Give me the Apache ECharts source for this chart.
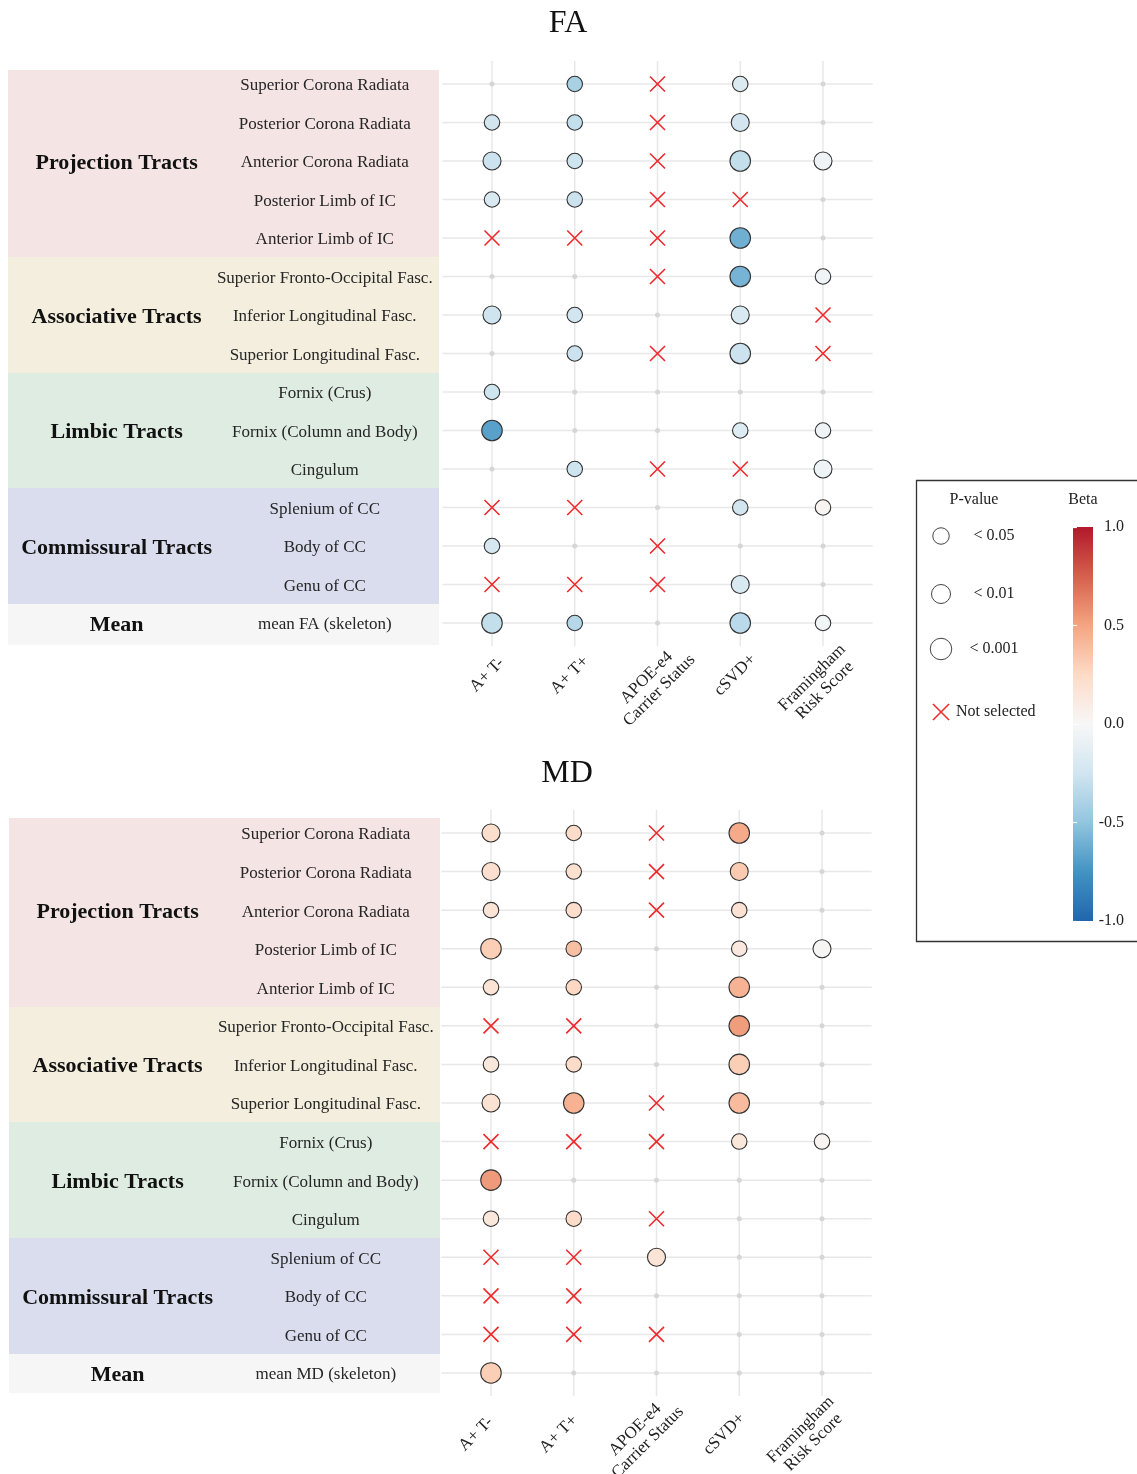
<!DOCTYPE html>
<html>
<head>
<meta charset="utf-8">
<title>FA / MD associations</title>
<script src="https://cdn.jsdelivr.net/npm/echarts@6/dist/echarts.min.js"></script>
<style>
  html, body { margin: 0; padding: 0; background: #ffffff; }
  #chart { width: 1137px; height: 1474px; }
</style>
</head>
<body>
<div id="chart"></div>
<script>
// ---------------- data ----------------
const PREDICTORS = ['A+ T-', 'A+ T+', 'APOE-e4\nCarrier Status', 'cSVD+', 'Framingham\nRisk Score'];

const TRACTS = [
  'Superior Corona Radiata', 'Posterior Corona Radiata', 'Anterior Corona Radiata',
  'Posterior Limb of IC', 'Anterior Limb of IC',
  'Superior Fronto-Occipital Fasc.', 'Inferior Longitudinal Fasc.', 'Superior Longitudinal Fasc.',
  'Fornix (Crus)', 'Fornix (Column and Body)', 'Cingulum',
  'Splenium of CC', 'Body of CC', 'Genu of CC'
];
const FA_TRACTS = TRACTS.concat(['mean FA (skeleton)']);
const MD_TRACTS = TRACTS.concat(['mean MD (skeleton)']);

const GROUP_NAMES = ['Projection Tracts', 'Associative Tracts', 'Limbic Tracts', 'Commissural Tracts', 'Mean'];
const GROUP_SIZES = [5, 3, 3, 3, 1];

// one string per tract, one character per predictor:
// 'x' = not selected, '.' = not significant, '1' p<0.05, '2' p<0.01, '3' p<0.001
const FA_SIG = [
  '.1x1.', '11x2.', '21x32', '11xx.', 'xxx3.',
  '..x31', '21.2x', '.1x3x',
  '1....', '3..11', '.1xx2',
  'xx.11', '1.x..', 'xxx2.',
  '31.31'
];
const FA_BETA = [
  [null, -0.41, null, -0.18, null],
  [-0.24, -0.30, null, -0.24, null],
  [-0.27, -0.26, null, -0.30, -0.05],
  [-0.20, -0.27, null, null, null],
  [null, null, null, -0.61, null],
  [null, null, null, -0.59, -0.04],
  [-0.26, -0.24, null, -0.20, null],
  [null, -0.27, null, -0.27, null],
  [-0.26, null, null, null, null],
  [-0.68, null, null, -0.17, -0.05],
  [null, -0.26, null, null, -0.06],
  [null, null, null, -0.24, 0.03],
  [-0.22, null, null, null, null],
  [null, null, null, -0.20, null],
  [-0.30, -0.36, null, -0.34, -0.03]
];

const MD_SIG = [
  '21x3.', '21x2.', '11x1.', '31.12', '11.3.',
  'xx.3.', '11.3.', '23x3.',
  'xxx11', '3....', '11x..',
  'xx2..', 'xx...', 'xxx..',
  '3....'
];
const MD_BETA = [
  [0.22, 0.24, null, 0.47, null],
  [0.21, 0.20, null, 0.33, null],
  [0.17, 0.23, null, 0.19, null],
  [0.31, 0.38, null, 0.13, 0.02],
  [0.17, 0.26, null, 0.44, null],
  [null, null, null, 0.53, null],
  [0.14, 0.24, null, 0.31, null],
  [0.19, 0.44, null, 0.40, null],
  [null, null, null, 0.15, 0.03],
  [0.54, null, null, null, null],
  [0.14, 0.24, null, null, null],
  [null, null, 0.17, null, null],
  [null, null, null, null, null],
  [null, null, null, null, null],
  [0.31, null, null, null, null]
];

const SIG_LABELS = ['< 0.05', '< 0.01', '< 0.001'];
const BETA_TICKS = [-1, -0.5, 0, 0.5, 1];

// ---------------- styles & layout ----------------
const SERIF = '"Liberation Serif", "DejaVu Serif", serif';
const RDBU = ['#2166ac', '#4393c3', '#92c5de', '#d1e5f0', '#f7f7f7', '#fddbc7', '#f4a582', '#d6604d', '#b2182b'];
const GROUP_COLORS = ['#f5e4e4', '#f3eedd', '#deece2', '#d9ddee', '#f6f6f6'];
const SYMBOL_SIZE = [0, 15.5, 18, 20.5];
const CROSS_PATH = 'path://M0,0L10,10M10,0L0,10';
const CROSS_COLOR = '#ee2a2d';
const PAD = 0.6;               // axis expansion around first/last category
const GROUP_LABEL_X = 0.252;   // fractions of the label-panel width
const TRACT_LABEL_X = 0.735;
const TEXT_DROP = 2;           // optical baseline correction for row labels

const PANELS = [
  { title: 'FA', tracts: FA_TRACTS, sig: FA_SIG, beta: FA_BETA,
    titleX: 563, titleTop: 3,
    row0: 84, rowStep: 38.5, col0: 492, colStep: 82.75,
    band: [8, 70, 439, 645],
    xLab: [[-5, 52], [-4.5, 61]] },
  { title: 'MD', tracts: MD_TRACTS, sig: MD_SIG, beta: MD_BETA,
    titleX: 562, titleTop: 753,
    row0: 833, rowStep: 38.57, col0: 491, colStep: 82.75,
    band: [9, 818, 440, 1393],
    xLab: [[-15, 61], [-15, 63]] }
];

function splitCells(sig, beta) {
  const circles = [], crosses = [], blanks = [];
  sig.forEach((row, r) => {
    for (let c = 0; c < row.length; c++) {
      const s = row[c];
      if (s === 'x') crosses.push([c, r]);
      else if (s === '.') blanks.push([c, r]);
      else circles.push([c, r, beta[r][c], Number(s)]);
    }
  });
  return { circles, crosses, blanks };
}

const groupRanges = [];
(function () {
  let start = 0;
  GROUP_SIZES.forEach((s, g) => { groupRanges.push([start, start + s - 1, g]); start += s; });
})();

// ---------------- option ----------------
const grid = [], xAxis = [], yAxis = [], series = [], title = [];
const circleSeries = [];

PANELS.forEach(p => {
  const n = p.tracts.length, m = PREDICTORS.length;

  title.push({
    text: p.title, left: p.titleX, top: p.titleTop, textAlign: 'center',
    textStyle: { fontFamily: SERIF, fontSize: 32, fontWeight: 'normal', color: '#111' }
  });

  // dot matrix
  const dg = grid.length;
  grid.push({
    left: p.col0 - PAD * p.colStep, top: p.row0 - PAD * p.rowStep,
    width: (m - 1 + 2 * PAD) * p.colStep, height: (n - 1 + 2 * PAD) * p.rowStep,
    containLabel: false, outerBoundsMode: 'none'
  });
  const dx = xAxis.length, dy = yAxis.length;
  xAxis.push({ gridIndex: dg, type: 'value', min: -PAD, max: m - 1 + PAD, show: false });
  yAxis.push({ gridIndex: dg, type: 'value', min: -PAD, max: n - 1 + PAD, inverse: true, show: false });

  // label panel with coloured bands
  const [bl, bt, br, bb] = p.band;
  const lg = grid.length;
  grid.push({ left: bl, top: bt, width: br - bl, height: bb - bt, containLabel: false, outerBoundsMode: 'none' });
  const lx = xAxis.length, ly = yAxis.length;
  xAxis.push({ gridIndex: lg, type: 'value', min: 0, max: 1, show: false });
  yAxis.push({ gridIndex: lg, type: 'value', min: -(p.row0 - bt) / p.rowStep, max: (bb - p.row0) / p.rowStep, inverse: true, show: false });

  series.push({
    type: 'custom', xAxisIndex: lx, yAxisIndex: ly, z: 0, silent: true,
    data: groupRanges,
    renderItem(params, api) {
      const cs = params.coordSys;
      const first = api.value(0), last = api.value(1), g = api.value(2);
      const top = Math.round(first === 0 ? cs.y : api.coord([0, first - 0.5])[1]);
      const bottom = Math.round(last === n - 1 ? cs.y + cs.height : api.coord([0, last + 0.5])[1]);
      const midY = (api.coord([0, first])[1] + api.coord([0, last])[1]) / 2;
      const tx = api.coord([GROUP_LABEL_X, 0])[0];
      return {
        type: 'group',
        children: [
          { type: 'rect', shape: { x: cs.x, y: top, width: cs.width, height: bottom - top },
            style: { fill: GROUP_COLORS[g] } },
          { type: 'text', x: tx, y: midY + TEXT_DROP,
            style: { text: GROUP_NAMES[g], fill: '#111', fontSize: 22, fontWeight: 'bold',
                     fontFamily: SERIF, align: 'center', verticalAlign: 'middle' } }
        ]
      };
    }
  });

  series.push({
    type: 'custom', xAxisIndex: lx, yAxisIndex: ly, z: 1, silent: true,
    data: p.tracts.map((_, r) => [TRACT_LABEL_X, r]),
    renderItem(params, api) {
      const pt = api.coord([api.value(0), api.value(1)]);
      return {
        type: 'text', x: pt[0], y: pt[1] + TEXT_DROP,
        style: { text: p.tracts[params.dataIndex], fill: '#262626', fontSize: 17,
                 fontFamily: SERIF, align: 'center', verticalAlign: 'middle' }
      };
    }
  });

  // grid lines through every predictor and tract
  series.push({
    type: 'custom', xAxisIndex: dx, yAxisIndex: dy, z: 1, silent: true,
    data: PREDICTORS.map((_, c) => [0, c]).concat(p.tracts.map((_, r) => [1, r])),
    renderItem(params, api) {
      const cs = params.coordSys;
      const kind = api.value(0), k = api.value(1);
      let shape;
      if (kind === 0) {
        const x = api.coord([k, 0])[0];
        shape = { x1: x, y1: cs.y, x2: x, y2: cs.y + cs.height };
      } else {
        const y = api.coord([0, k])[1];
        shape = { x1: cs.x, y1: y, x2: cs.x + cs.width, y2: y };
      }
      return { type: 'line', shape, style: { stroke: '#e8e8e8', lineWidth: 1.5 } };
    }
  });

  // rotated predictor labels under the matrix
  series.push({
    type: 'custom', xAxisIndex: dx, yAxisIndex: dy, z: 2, silent: true,
    data: PREDICTORS.map((_, c) => [c, n - 1]),
    renderItem(params, api) {
      const pt = api.coord([api.value(0), api.value(1)]);
      const label = PREDICTORS[params.dataIndex];
      const off = p.xLab[label.indexOf('\n') >= 0 ? 1 : 0];
      return {
        type: 'text', x: pt[0] + off[0], y: pt[1] + off[1], rotation: Math.PI / 4,
        style: { text: label, fill: '#222', fontSize: 17, fontFamily: SERIF, lineHeight: 18,
                 align: 'center', verticalAlign: 'middle' }
      };
    }
  });

  const cells = splitCells(p.sig, p.beta);

  series.push({
    type: 'scatter', xAxisIndex: dx, yAxisIndex: dy, z: 2, silent: true,
    symbol: 'circle', symbolSize: 5,
    itemStyle: { color: '#d6d6d6', opacity: 1 },
    data: cells.blanks
  });

  circleSeries.push(series.length);
  series.push({
    type: 'scatter', name: p.title, xAxisIndex: dx, yAxisIndex: dy, z: 3, silent: true,
    symbol: 'circle', symbolSize: v => SYMBOL_SIZE[v[3]],
    itemStyle: { borderColor: '#333', borderWidth: 1.1, opacity: 1 },
    data: cells.circles
  });

  series.push({
    type: 'scatter', xAxisIndex: dx, yAxisIndex: dy, z: 4, silent: true,
    symbol: CROSS_PATH, symbolSize: 15,
    itemStyle: { color: 'none', borderColor: CROSS_COLOR, borderWidth: 1.6, opacity: 1 },
    data: cells.crosses
  });
});

// colour bar for beta
const cbg = grid.length;
grid.push({ left: 1073, top: 527, width: 20, height: 394, containLabel: false, outerBoundsMode: 'none' });
const cbx = xAxis.length;
xAxis.push({ gridIndex: cbg, type: 'value', min: 0, max: 1, show: false });
const cby = yAxis.length;
const tickStep = BETA_TICKS[1] - BETA_TICKS[0];
yAxis.push({
  gridIndex: cbg, type: 'value', position: 'right', z: 10,
  min: BETA_TICKS[0], max: BETA_TICKS[BETA_TICKS.length - 1], interval: tickStep,
  axisLine: { show: false }, splitLine: { show: false },
  axisTick: { show: true, inside: true, length: 4, lineStyle: { color: '#ffffff', width: 1.2 } },
  axisLabel: { margin: 31, align: 'right', fontSize: 16, fontFamily: SERIF, color: '#222',
               formatter: v => v.toFixed(1) }
});
yAxis.push({
  gridIndex: cbg, type: 'value', position: 'left', z: 10,
  min: BETA_TICKS[0], max: BETA_TICKS[BETA_TICKS.length - 1], interval: tickStep,
  axisLine: { show: false }, splitLine: { show: false }, axisLabel: { show: false },
  axisTick: { show: true, inside: true, length: 4, lineStyle: { color: '#ffffff', width: 1.2 } }
});
series.push({
  type: 'custom', xAxisIndex: cbx, yAxisIndex: cby, z: 1, silent: true,
  data: [[0.5, 0]],
  renderItem(params) {
    const cs = params.coordSys;
    const stops = RDBU.slice().reverse().map((c, i, a) => ({ offset: i / (a.length - 1), color: c }));
    return {
      type: 'rect', shape: { x: cs.x, y: cs.y, width: cs.width, height: cs.height },
      style: { fill: new echarts.graphic.LinearGradient(0, 0, 0, 1, stops) }
    };
  }
});

// legend box: significance sizes and "not selected" marker
const LEGEND_ROWS_Y = [536, 594, 649];
const graphic = [
  { type: 'rect', z: 0, shape: { x: 916.5, y: 480.5, width: 240, height: 461 },
    style: { fill: '#ffffff', stroke: '#333', lineWidth: 1.3 } },
  { type: 'text', z: 5, x: 974, y: 500,
    style: { text: 'P-value', fill: '#222', fontSize: 16, fontFamily: SERIF, align: 'center', verticalAlign: 'middle' } },
  { type: 'text', z: 5, x: 1083, y: 500,
    style: { text: 'Beta', fill: '#222', fontSize: 16, fontFamily: SERIF, align: 'center', verticalAlign: 'middle' } }
];
SIG_LABELS.forEach((lab, i) => {
  graphic.push({ type: 'circle', z: 5, shape: { cx: 941, cy: LEGEND_ROWS_Y[i], r: SYMBOL_SIZE[i + 1] / 2 + 0.5 },
                 style: { fill: '#ffffff', stroke: '#444', lineWidth: 1 } });
  graphic.push({ type: 'text', z: 5, x: 994, y: LEGEND_ROWS_Y[i],
                 style: { text: lab, fill: '#222', fontSize: 16, fontFamily: SERIF, align: 'center', verticalAlign: 'middle' } });
});
graphic.push({ type: 'polyline', z: 5, shape: { points: [[933, 704], [949, 720]] }, style: { stroke: CROSS_COLOR, lineWidth: 1.6, fill: null } });
graphic.push({ type: 'polyline', z: 5, shape: { points: [[949, 704], [933, 720]] }, style: { stroke: CROSS_COLOR, lineWidth: 1.6, fill: null } });
graphic.push({ type: 'text', z: 5, x: 956, y: 712,
               style: { text: 'Not selected', fill: '#222', fontSize: 16, fontFamily: SERIF, align: 'left', verticalAlign: 'middle' } });

const option = {
  backgroundColor: '#ffffff',
  animation: false,
  title,
  grid, xAxis, yAxis,
  visualMap: {
    type: 'continuous', show: false, min: BETA_TICKS[0], max: BETA_TICKS[BETA_TICKS.length - 1],
    dimension: 2, seriesIndex: circleSeries, inRange: { color: RDBU }
  },
  graphic,
  series
};

const chart = echarts.init(document.getElementById('chart'), null, { renderer: 'canvas' });
chart.setOption(option);
</script>
</body>
</html>
